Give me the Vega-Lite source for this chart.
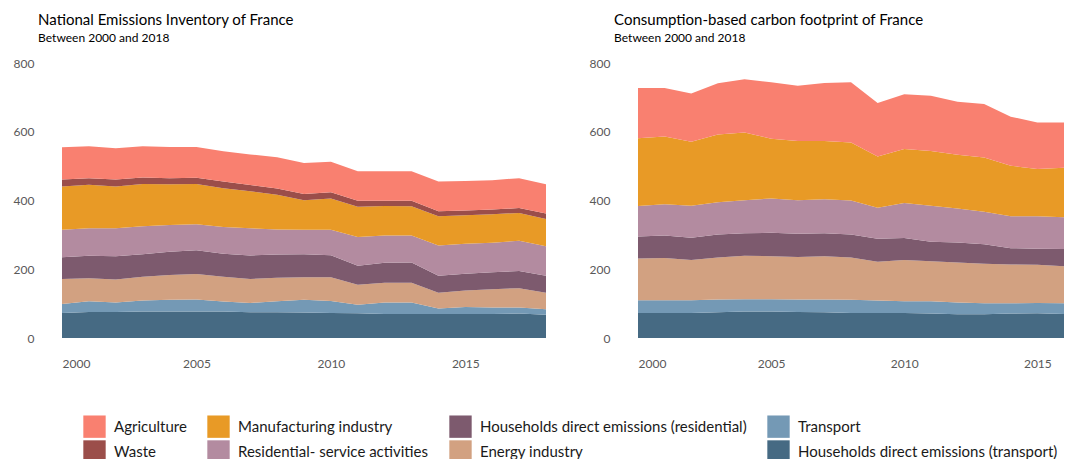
{
  "$schema": "https://vega.github.io/schema/vega-lite/v6.json",
  "padding": {"left": 13, "top": 13, "right": 0, "bottom": 0},
  "background": "white",
  "config": {
    "view": {"stroke": null},
    "font": "Lato",
    "title": {"anchor": "start", "frame": "bounds", "fontSize": 15, "fontWeight": "normal", "color": "#000000", "subtitleFontSize": 12, "subtitleFontWeight": "normal", "subtitleColor": "#000000", "subtitlePadding": 5, "dx": 25, "offset": 13},
    "axis": {"domain": false, "ticks": false, "grid": false, "labelColor": "#595959", "labelFontSize": 12, "title": null},
    "legend": {"orient": "bottom", "columns": 4, "title": null, "symbolType": "square", "symbolSize": 500, "symbolStrokeWidth": 0, "symbolOpacity": 1, "labelFontSize": 15, "labelLimit": 0, "labelColor": "#1a1a1a", "rowPadding": 2, "columnPadding": 20, "labelOffset": 8, "padding": 21, "offset": 25}
  },
  "datasets": {
    "ranks": [
      {"sector": "Households direct emissions (transport)", "rank": 1},
      {"sector": "Transport", "rank": 2},
      {"sector": "Energy industry", "rank": 3},
      {"sector": "Households direct emissions (residential)", "rank": 4},
      {"sector": "Residential- service activities", "rank": 5},
      {"sector": "Manufacturing industry", "rank": 6},
      {"sector": "Waste", "rank": 7},
      {"sector": "Agriculture", "rank": 8}
    ],
    "nei": [
      {"year":2000,"sector":"Households direct emissions (transport)","value":73},{"year":2000,"sector":"Transport","value":26},{"year":2000,"sector":"Energy industry","value":73},{"year":2000,"sector":"Households direct emissions (residential)","value":63},{"year":2000,"sector":"Residential- service activities","value":80},{"year":2000,"sector":"Manufacturing industry","value":126},{"year":2000,"sector":"Waste","value":20},{"year":2000,"sector":"Agriculture","value":94},
      {"year":2001,"sector":"Households direct emissions (transport)","value":76},{"year":2001,"sector":"Transport","value":31},{"year":2001,"sector":"Energy industry","value":67},{"year":2001,"sector":"Households direct emissions (residential)","value":65},{"year":2001,"sector":"Residential- service activities","value":80},{"year":2001,"sector":"Manufacturing industry","value":127},{"year":2001,"sector":"Waste","value":19},{"year":2001,"sector":"Agriculture","value":93},
      {"year":2002,"sector":"Households direct emissions (transport)","value":76},{"year":2002,"sector":"Transport","value":27},{"year":2002,"sector":"Energy industry","value":67},{"year":2002,"sector":"Households direct emissions (residential)","value":68},{"year":2002,"sector":"Residential- service activities","value":81},{"year":2002,"sector":"Manufacturing industry","value":122},{"year":2002,"sector":"Waste","value":20},{"year":2002,"sector":"Agriculture","value":91},
      {"year":2003,"sector":"Households direct emissions (transport)","value":77},{"year":2003,"sector":"Transport","value":32},{"year":2003,"sector":"Energy industry","value":69},{"year":2003,"sector":"Households direct emissions (residential)","value":66},{"year":2003,"sector":"Residential- service activities","value":81},{"year":2003,"sector":"Manufacturing industry","value":123},{"year":2003,"sector":"Waste","value":19},{"year":2003,"sector":"Agriculture","value":91},
      {"year":2004,"sector":"Households direct emissions (transport)","value":77},{"year":2004,"sector":"Transport","value":34},{"year":2004,"sector":"Energy industry","value":72},{"year":2004,"sector":"Households direct emissions (residential)","value":68},{"year":2004,"sector":"Residential- service activities","value":78},{"year":2004,"sector":"Manufacturing industry","value":118},{"year":2004,"sector":"Waste","value":18},{"year":2004,"sector":"Agriculture","value":91},
      {"year":2005,"sector":"Households direct emissions (transport)","value":77},{"year":2005,"sector":"Transport","value":35},{"year":2005,"sector":"Energy industry","value":74},{"year":2005,"sector":"Households direct emissions (residential)","value":69},{"year":2005,"sector":"Residential- service activities","value":76},{"year":2005,"sector":"Manufacturing industry","value":117},{"year":2005,"sector":"Waste","value":18},{"year":2005,"sector":"Agriculture","value":90},
      {"year":2006,"sector":"Households direct emissions (transport)","value":77},{"year":2006,"sector":"Transport","value":29},{"year":2006,"sector":"Energy industry","value":72},{"year":2006,"sector":"Households direct emissions (residential)","value":67},{"year":2006,"sector":"Residential- service activities","value":78},{"year":2006,"sector":"Manufacturing industry","value":113},{"year":2006,"sector":"Waste","value":19},{"year":2006,"sector":"Agriculture","value":88},
      {"year":2007,"sector":"Households direct emissions (transport)","value":75},{"year":2007,"sector":"Transport","value":27},{"year":2007,"sector":"Energy industry","value":70},{"year":2007,"sector":"Households direct emissions (residential)","value":68},{"year":2007,"sector":"Residential- service activities","value":79},{"year":2007,"sector":"Manufacturing industry","value":108},{"year":2007,"sector":"Waste","value":18},{"year":2007,"sector":"Agriculture","value":89},
      {"year":2008,"sector":"Households direct emissions (transport)","value":75},{"year":2008,"sector":"Transport","value":32},{"year":2008,"sector":"Energy industry","value":68},{"year":2008,"sector":"Households direct emissions (residential)","value":68},{"year":2008,"sector":"Residential- service activities","value":73},{"year":2008,"sector":"Manufacturing industry","value":101},{"year":2008,"sector":"Waste","value":18},{"year":2008,"sector":"Agriculture","value":91},
      {"year":2009,"sector":"Households direct emissions (transport)","value":74},{"year":2009,"sector":"Transport","value":37},{"year":2009,"sector":"Energy industry","value":66},{"year":2009,"sector":"Households direct emissions (residential)","value":67},{"year":2009,"sector":"Residential- service activities","value":71},{"year":2009,"sector":"Manufacturing industry","value":86},{"year":2009,"sector":"Waste","value":18},{"year":2009,"sector":"Agriculture","value":90},
      {"year":2010,"sector":"Households direct emissions (transport)","value":73},{"year":2010,"sector":"Transport","value":35},{"year":2010,"sector":"Energy industry","value":69},{"year":2010,"sector":"Households direct emissions (residential)","value":64},{"year":2010,"sector":"Residential- service activities","value":74},{"year":2010,"sector":"Manufacturing industry","value":91},{"year":2010,"sector":"Waste","value":18},{"year":2010,"sector":"Agriculture","value":89},
      {"year":2011,"sector":"Households direct emissions (transport)","value":72},{"year":2011,"sector":"Transport","value":25},{"year":2011,"sector":"Energy industry","value":58},{"year":2011,"sector":"Households direct emissions (residential)","value":55},{"year":2011,"sector":"Residential- service activities","value":84},{"year":2011,"sector":"Manufacturing industry","value":88},{"year":2011,"sector":"Waste","value":17},{"year":2011,"sector":"Agriculture","value":86},
      {"year":2012,"sector":"Households direct emissions (transport)","value":70},{"year":2012,"sector":"Transport","value":33},{"year":2012,"sector":"Energy industry","value":58},{"year":2012,"sector":"Households direct emissions (residential)","value":58},{"year":2012,"sector":"Residential- service activities","value":79},{"year":2012,"sector":"Manufacturing industry","value":86},{"year":2012,"sector":"Waste","value":15},{"year":2012,"sector":"Agriculture","value":86},
      {"year":2013,"sector":"Households direct emissions (transport)","value":70},{"year":2013,"sector":"Transport","value":33},{"year":2013,"sector":"Energy industry","value":58},{"year":2013,"sector":"Households direct emissions (residential)","value":59},{"year":2013,"sector":"Residential- service activities","value":78},{"year":2013,"sector":"Manufacturing industry","value":85},{"year":2013,"sector":"Waste","value":16},{"year":2013,"sector":"Agriculture","value":86},
      {"year":2014,"sector":"Households direct emissions (transport)","value":70},{"year":2014,"sector":"Transport","value":16},{"year":2014,"sector":"Energy industry","value":46},{"year":2014,"sector":"Households direct emissions (residential)","value":49},{"year":2014,"sector":"Residential- service activities","value":88},{"year":2014,"sector":"Manufacturing industry","value":85},{"year":2014,"sector":"Waste","value":15},{"year":2014,"sector":"Agriculture","value":86},
      {"year":2015,"sector":"Households direct emissions (transport)","value":70},{"year":2015,"sector":"Transport","value":20},{"year":2015,"sector":"Energy industry","value":48},{"year":2015,"sector":"Households direct emissions (residential)","value":49},{"year":2015,"sector":"Residential- service activities","value":87},{"year":2015,"sector":"Manufacturing industry","value":83},{"year":2015,"sector":"Waste","value":14},{"year":2015,"sector":"Agriculture","value":86},
      {"year":2016,"sector":"Households direct emissions (transport)","value":70},{"year":2016,"sector":"Transport","value":19},{"year":2016,"sector":"Energy industry","value":53},{"year":2016,"sector":"Households direct emissions (residential)","value":49},{"year":2016,"sector":"Residential- service activities","value":86},{"year":2016,"sector":"Manufacturing industry","value":83},{"year":2016,"sector":"Waste","value":14},{"year":2016,"sector":"Agriculture","value":85},
      {"year":2017,"sector":"Households direct emissions (transport)","value":71},{"year":2017,"sector":"Transport","value":18},{"year":2017,"sector":"Energy industry","value":56},{"year":2017,"sector":"Households direct emissions (residential)","value":50},{"year":2017,"sector":"Residential- service activities","value":88},{"year":2017,"sector":"Manufacturing industry","value":81},{"year":2017,"sector":"Waste","value":14},{"year":2017,"sector":"Agriculture","value":87},
      {"year":2018,"sector":"Households direct emissions (transport)","value":68},{"year":2018,"sector":"Transport","value":16},{"year":2018,"sector":"Energy industry","value":48},{"year":2018,"sector":"Households direct emissions (residential)","value":49},{"year":2018,"sector":"Residential- service activities","value":86},{"year":2018,"sector":"Manufacturing industry","value":79},{"year":2018,"sector":"Waste","value":16},{"year":2018,"sector":"Agriculture","value":85}
    ],
    "cbf": [
      {"year":2000,"sector":"Households direct emissions (transport)","value":73},{"year":2000,"sector":"Transport","value":37},{"year":2000,"sector":"Energy industry","value":121},{"year":2000,"sector":"Households direct emissions (residential)","value":64},{"year":2000,"sector":"Residential- service activities","value":89},{"year":2000,"sector":"Manufacturing industry","value":197},{"year":2000,"sector":"Agriculture","value":146},
      {"year":2001,"sector":"Households direct emissions (transport)","value":73},{"year":2001,"sector":"Transport","value":37},{"year":2001,"sector":"Energy industry","value":123},{"year":2001,"sector":"Households direct emissions (residential)","value":65},{"year":2001,"sector":"Residential- service activities","value":91},{"year":2001,"sector":"Manufacturing industry","value":197},{"year":2001,"sector":"Agriculture","value":141},
      {"year":2002,"sector":"Households direct emissions (transport)","value":73},{"year":2002,"sector":"Transport","value":37},{"year":2002,"sector":"Energy industry","value":117},{"year":2002,"sector":"Households direct emissions (residential)","value":65},{"year":2002,"sector":"Residential- service activities","value":93},{"year":2002,"sector":"Manufacturing industry","value":186},{"year":2002,"sector":"Agriculture","value":140},
      {"year":2003,"sector":"Households direct emissions (transport)","value":75},{"year":2003,"sector":"Transport","value":37},{"year":2003,"sector":"Energy industry","value":122},{"year":2003,"sector":"Households direct emissions (residential)","value":67},{"year":2003,"sector":"Residential- service activities","value":94},{"year":2003,"sector":"Manufacturing industry","value":197},{"year":2003,"sector":"Agriculture","value":149},
      {"year":2004,"sector":"Households direct emissions (transport)","value":77},{"year":2004,"sector":"Transport","value":36},{"year":2004,"sector":"Energy industry","value":126},{"year":2004,"sector":"Households direct emissions (residential)","value":66},{"year":2004,"sector":"Residential- service activities","value":96},{"year":2004,"sector":"Manufacturing industry","value":197},{"year":2004,"sector":"Agriculture","value":155},
      {"year":2005,"sector":"Households direct emissions (transport)","value":77},{"year":2005,"sector":"Transport","value":36},{"year":2005,"sector":"Energy industry","value":125},{"year":2005,"sector":"Households direct emissions (residential)","value":68},{"year":2005,"sector":"Residential- service activities","value":100},{"year":2005,"sector":"Manufacturing industry","value":174},{"year":2005,"sector":"Agriculture","value":164},
      {"year":2006,"sector":"Households direct emissions (transport)","value":76},{"year":2006,"sector":"Transport","value":36},{"year":2006,"sector":"Energy industry","value":124},{"year":2006,"sector":"Households direct emissions (residential)","value":67},{"year":2006,"sector":"Residential- service activities","value":98},{"year":2006,"sector":"Manufacturing industry","value":172},{"year":2006,"sector":"Agriculture","value":161},
      {"year":2007,"sector":"Households direct emissions (transport)","value":75},{"year":2007,"sector":"Transport","value":37},{"year":2007,"sector":"Energy industry","value":126},{"year":2007,"sector":"Households direct emissions (residential)","value":67},{"year":2007,"sector":"Residential- service activities","value":99},{"year":2007,"sector":"Manufacturing industry","value":169},{"year":2007,"sector":"Agriculture","value":169},
      {"year":2008,"sector":"Households direct emissions (transport)","value":73},{"year":2008,"sector":"Transport","value":38},{"year":2008,"sector":"Energy industry","value":123},{"year":2008,"sector":"Households direct emissions (residential)","value":67},{"year":2008,"sector":"Residential- service activities","value":99},{"year":2008,"sector":"Manufacturing industry","value":169},{"year":2008,"sector":"Agriculture","value":175},
      {"year":2009,"sector":"Households direct emissions (transport)","value":73},{"year":2009,"sector":"Transport","value":36},{"year":2009,"sector":"Energy industry","value":113},{"year":2009,"sector":"Households direct emissions (residential)","value":67},{"year":2009,"sector":"Residential- service activities","value":90},{"year":2009,"sector":"Manufacturing industry","value":149},{"year":2009,"sector":"Agriculture","value":156},
      {"year":2010,"sector":"Households direct emissions (transport)","value":73},{"year":2010,"sector":"Transport","value":34},{"year":2010,"sector":"Energy industry","value":120},{"year":2010,"sector":"Households direct emissions (residential)","value":64},{"year":2010,"sector":"Residential- service activities","value":102},{"year":2010,"sector":"Manufacturing industry","value":157},{"year":2010,"sector":"Agriculture","value":159},
      {"year":2011,"sector":"Households direct emissions (transport)","value":71},{"year":2011,"sector":"Transport","value":36},{"year":2011,"sector":"Energy industry","value":116},{"year":2011,"sector":"Households direct emissions (residential)","value":57},{"year":2011,"sector":"Residential- service activities","value":105},{"year":2011,"sector":"Manufacturing industry","value":159},{"year":2011,"sector":"Agriculture","value":161},
      {"year":2012,"sector":"Households direct emissions (transport)","value":69},{"year":2012,"sector":"Transport","value":34},{"year":2012,"sector":"Energy industry","value":117},{"year":2012,"sector":"Households direct emissions (residential)","value":58},{"year":2012,"sector":"Residential- service activities","value":99},{"year":2012,"sector":"Manufacturing industry","value":156},{"year":2012,"sector":"Agriculture","value":154},
      {"year":2013,"sector":"Households direct emissions (transport)","value":69},{"year":2013,"sector":"Transport","value":32},{"year":2013,"sector":"Energy industry","value":115},{"year":2013,"sector":"Households direct emissions (residential)","value":57},{"year":2013,"sector":"Residential- service activities","value":94},{"year":2013,"sector":"Manufacturing industry","value":158},{"year":2013,"sector":"Agriculture","value":156},
      {"year":2014,"sector":"Households direct emissions (transport)","value":71},{"year":2014,"sector":"Transport","value":30},{"year":2014,"sector":"Energy industry","value":113},{"year":2014,"sector":"Households direct emissions (residential)","value":47},{"year":2014,"sector":"Residential- service activities","value":93},{"year":2014,"sector":"Manufacturing industry","value":147},{"year":2014,"sector":"Agriculture","value":143},
      {"year":2015,"sector":"Households direct emissions (transport)","value":72},{"year":2015,"sector":"Transport","value":30},{"year":2015,"sector":"Energy industry","value":111},{"year":2015,"sector":"Households direct emissions (residential)","value":47},{"year":2015,"sector":"Residential- service activities","value":94},{"year":2015,"sector":"Manufacturing industry","value":138},{"year":2015,"sector":"Agriculture","value":135},
      {"year":2016,"sector":"Households direct emissions (transport)","value":70},{"year":2016,"sector":"Transport","value":31},{"year":2016,"sector":"Energy industry","value":108},{"year":2016,"sector":"Households direct emissions (residential)","value":50},{"year":2016,"sector":"Residential- service activities","value":92},{"year":2016,"sector":"Manufacturing industry","value":144},{"year":2016,"sector":"Agriculture","value":132}
    ]
  },
  "spacing": 43,
  "hconcat": [
    {
      "width": 484,
      "height": 275,
      "title": {"text": "National Emissions Inventory of France", "subtitle": "Between 2000 and 2018"},
      "data": {"name": "nei"},
      "transform": [{"lookup": "sector", "from": {"data": {"name": "ranks"}, "key": "sector", "fields": ["rank"]}}],
      "mark": {"type": "area", "interpolate": "linear"},
      "encoding": {
        "x": {"field": "year", "type": "quantitative", "scale": {"domain": [2000, 2018], "nice": false, "zero": false}, "axis": {"values": [2000, 2005, 2010, 2015], "format": "d", "labelPadding": 20}},
        "y": {"field": "value", "type": "quantitative", "stack": "zero", "scale": {"domain": [0, 800], "nice": false}, "axis": {"values": [0, 200, 400, 600, 800], "labelPadding": 28}},
        "order": {"field": "rank", "type": "quantitative", "sort": "ascending"},
        "color": {"field": "sector", "type": "nominal",
          "scale": {"domain": ["Agriculture", "Manufacturing industry", "Households direct emissions (residential)", "Transport", "Waste", "Residential- service activities", "Energy industry", "Households direct emissions (transport)"],
                    "range": ["#F98070", "#E89A26", "#7D5A6E", "#7499B5", "#9B4E4A", "#B38BA0", "#D2A181", "#466A83"]}}
      }
    },
    {
      "width": 426,
      "height": 275,
      "title": {"text": "Consumption-based carbon footprint of France", "subtitle": "Between 2000 and 2018"},
      "data": {"name": "cbf"},
      "transform": [{"lookup": "sector", "from": {"data": {"name": "ranks"}, "key": "sector", "fields": ["rank"]}}],
      "mark": {"type": "area", "interpolate": "linear"},
      "encoding": {
        "x": {"field": "year", "type": "quantitative", "scale": {"domain": [2000, 2016], "nice": false, "zero": false}, "axis": {"values": [2000, 2005, 2010, 2015], "format": "d", "labelPadding": 20}},
        "y": {"field": "value", "type": "quantitative", "stack": "zero", "scale": {"domain": [0, 800], "nice": false}, "axis": {"values": [0, 200, 400, 600, 800], "labelPadding": 28}},
        "order": {"field": "rank", "type": "quantitative", "sort": "ascending"},
        "color": {"field": "sector", "type": "nominal",
          "scale": {"domain": ["Agriculture", "Manufacturing industry", "Households direct emissions (residential)", "Transport", "Waste", "Residential- service activities", "Energy industry", "Households direct emissions (transport)"],
                    "range": ["#F98070", "#E89A26", "#7D5A6E", "#7499B5", "#9B4E4A", "#B38BA0", "#D2A181", "#466A83"]}}
      }
    }
  ]
}
